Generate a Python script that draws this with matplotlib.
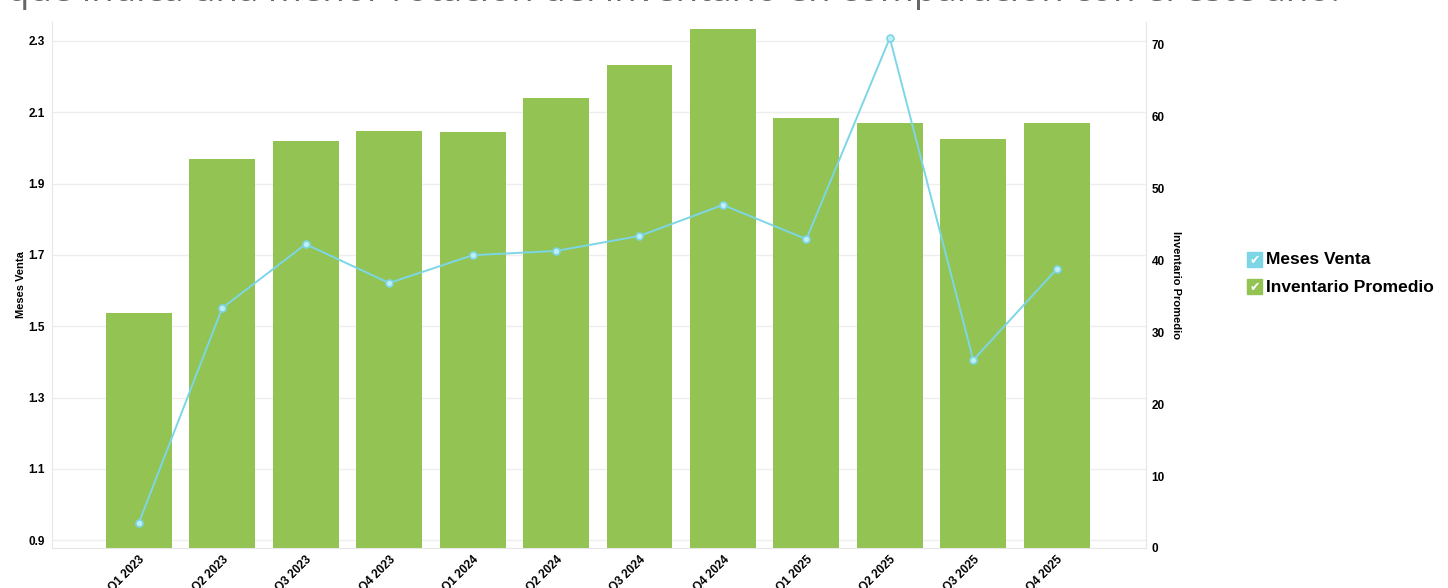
import numpy as np
import matplotlib.pyplot as plt
from matplotlib.patches import Rectangle

plt.rcParams['font.family'] = ['Liberation Sans', 'DejaVu Sans']

########### Data ###########

quarters = ['Q1 2023', 'Q2 2023', 'Q3 2023', 'Q4 2023',
            'Q1 2024', 'Q2 2024', 'Q3 2024', 'Q4 2024',
            'Q1 2025', 'Q2 2025', 'Q3 2025', 'Q4 2025']
inventario = [32.7, 54.2, 56.7, 58.0, 57.9, 62.6, 67.2, 72.2, 59.9, 59.2, 56.9, 59.2]
meses_venta = [0.948, 1.551, 1.730, 1.621, 1.699, 1.711, 1.753, 1.840, 1.744, 2.308, 1.405, 1.660]

left_ticks = [0.9, 1.1, 1.3, 1.5, 1.7, 1.9, 2.1, 2.3]
right_ticks = [0, 10, 20, 30, 40, 50, 60, 70]

green = '#92c353'
cyan = '#7dd6e6'

W, H = 1448, 588

########### Figure ###########

fig = plt.figure(figsize=(W/100, H/100), dpi=100)
ax = fig.add_axes([52/W, 40/H, (1146-52)/W, (548-22)/H])
ax2 = ax.twinx()

x = np.arange(len(quarters))

# bars on right axis, line on left axis
ax2.bar(x, inventario, width=0.79, color=green, zorder=2)
ax2.set_ylim(0, 73.2)
ax2.set_yticks(right_ticks)
ax2.set_ylabel('Inventario Promedio', rotation=270, fontsize=8, fontweight='bold', labelpad=12)

ax.set_zorder(ax2.get_zorder() + 1)
ax.patch.set_visible(False)
ax.plot(x, meses_venta, color=cyan, lw=1.4, marker='o', ms=5,
        mfc='#bfeef6', mec=cyan, mew=1.2, zorder=5)
ax.set_ylim(0.878, 2.353)
ax.set_yticks(left_ticks)
ax.set_yticklabels([f'{v:.1f}' for v in left_ticks])
ax.set_ylabel('Meses Venta', fontsize=8, fontweight='bold', labelpad=2)
ax.set_xlim(-1.04, 12.07)
ax.set_xticks(x)
ax.set_xticklabels(quarters, rotation=45, ha='right', rotation_mode='anchor')

# grid lines drawn behind bars
for v in left_ticks:
    ax2.axhline((v - 0.878) / (2.353 - 0.878) * 73.2, color='#eeeeee', lw=1, zorder=0)

for a in (ax, ax2):
    for s in a.spines.values():
        s.set_visible(False)
    a.tick_params(length=0, labelsize=8.5)
    for lab in a.get_xticklabels() + a.get_yticklabels():
        lab.set_fontweight('bold')
ax.spines['left'].set_visible(True)
ax.spines['left'].set_color('#e6e6e6')
ax.spines['bottom'].set_visible(True)
ax.spines['bottom'].set_color('#e6e6e6')
ax2.spines['right'].set_visible(True)
ax2.spines['right'].set_color('#e6e6e6')
ax.tick_params(axis='y', pad=5)
ax.tick_params(axis='x', pad=4)
ax2.tick_params(axis='y', pad=4)

# legend with check boxes
for i, (name, col) in enumerate([('Meses Venta', cyan), ('Inventario Promedio', green)]):
    ypix = 260 + i * 27
    fig.patches.append(Rectangle((1247 / W, 1 - (ypix + 7) / H), 15 / W, 15 / H,
                                 transform=fig.transFigure, color=col, figure=fig))
    fig.text(1254.5 / W, 1 - (ypix + 0.5) / H, '\u2714', color='white', fontsize=9,
             ha='center', va='center', family=['DejaVu Sans'])
    fig.text(1266 / W, 1 - ypix / H, name, fontsize=12.5, fontweight='bold',
             ha='left', va='center')

# cut-off paragraph text above the chart
fig.text(1340 / W, 1 - 1 / H, 'que indica una menor rotación del inventario en comparación con el este año.',
         fontsize=26.5, color='#666666', ha='right', va='baseline', family=['Open Sans', 'DejaVu Sans'])

fig.savefig('out.png', dpi=100)
